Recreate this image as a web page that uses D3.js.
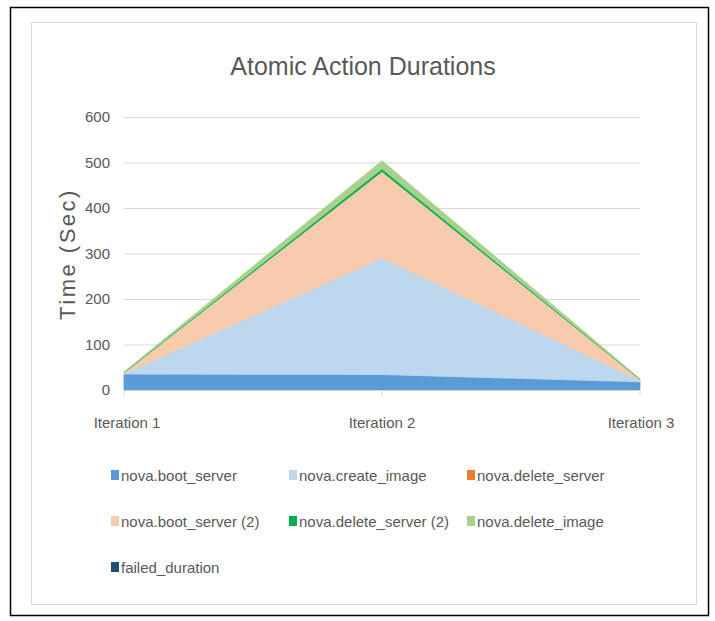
<!DOCTYPE html>
<html>
<head>
<meta charset="utf-8">
<script src="https://cdn.jsdelivr.net/npm/d3@7"></script>
<style>
  body { margin: 0; background: #fff; }
  text { font-family: "Liberation Sans", Arial, sans-serif; fill: #595959; }
</style>
</head>
<body>
<svg width="715" height="621"></svg>
<script>
var categories = ["Iteration 1", "Iteration 2", "Iteration 3"];
var seriesNames = ["nova.boot_server", "nova.create_image", "nova.delete_server",
                   "nova.boot_server (2)", "nova.delete_server (2)", "nova.delete_image",
                   "failed_duration"];
var colors = ["#5b9bd5", "#bdd7ee", "#ed7d31", "#f8cbad", "#00b050", "#a9d18e", "#1f4e79"];

var bootServer = [35, 34, 18];
var createImage = [1, 256, 3];
var deleteServer = [0, 0, 0];
var bootServer2 = [2, 190, 2];
var deleteServer2 = [0.5, 6, 0.5];
var deleteImage = [1, 18, 1];
var failedDuration = [0, 0, 0];
var yTicks = [0, 100, 200, 300, 400, 500, 600];

var allValues = [bootServer, createImage, deleteServer, bootServer2, deleteServer2, deleteImage, failedDuration];

var rows = categories.map((c, i) => {
  var r = { cat: c };
  seriesNames.forEach((s, j) => r[s] = allValues[j][i]);
  return r;
});

var svg = d3.select("svg");

// frames
svg.append("rect").attr("x", 10.5).attr("y", 7.5).attr("width", 698).attr("height", 608)
   .attr("fill", "none").attr("stroke", "#000").attr("stroke-width", 1.5);
svg.append("rect").attr("x", 31.5).attr("y", 22.5).attr("width", 665).attr("height", 582)
   .attr("fill", "#fff").attr("stroke", "#d9d9d9");

var plotLeft = 124, plotRight = 640, plotTop = 117, plotBottom = 390;

var x = d3.scalePoint().domain(categories).range([plotLeft, plotRight]);
var y = d3.scaleLinear().domain([0, 600]).range([plotBottom, plotTop]);

// gridlines
svg.append("g").selectAll("line").data(yTicks.filter(t => t > 0)).enter().append("line")
   .attr("x1", plotLeft).attr("x2", plotRight)
   .attr("y1", d => y(d) + 0.5).attr("y2", d => y(d) + 0.5)
   .attr("stroke", "#d9d9d9").attr("stroke-width", 1);

var stack = d3.stack().keys(seriesNames);
var layers = stack(rows);

var area = d3.area()
  .x(d => x(d.data.cat))
  .y0(d => y(d[0]))
  .y1(d => y(d[1]));

// empty series get no outline so they don't paint over the top edge
svg.append("g").selectAll("path").data(layers).enter().append("path")
   .attr("d", area)
   .attr("fill", (d, i) => colors[i])
   .attr("stroke", (d, i) => d3.sum(allValues[i]) > 0 ? colors[i] : "none")
   .attr("stroke-width", 0.8);

// y axis labels
svg.append("g").selectAll("text").data(yTicks).enter().append("text")
   .attr("x", plotLeft - 14).attr("y", d => y(d) + 5)
   .attr("text-anchor", "end").attr("font-size", 15)
   .text(d => d);

// x axis
svg.append("line").attr("x1", plotLeft).attr("x2", plotRight).attr("y1", plotBottom + 0.5).attr("y2", plotBottom + 0.5)
   .attr("stroke", "#d9d9d9");
svg.append("g").selectAll("line").data(categories).enter().append("line")
   .attr("x1", d => x(d)).attr("x2", d => x(d))
   .attr("y1", plotBottom).attr("y2", plotBottom + 6)
   .attr("stroke", "#d9d9d9");
svg.append("g").selectAll("text").data(categories).enter().append("text")
   .attr("x", d => x(d) + (d === categories[0] ? 3 : d === categories[2] ? 1 : 0))
   .attr("y", 428)
   .attr("text-anchor", "middle").attr("font-size", 15)
   .text(d => d);

// title
svg.append("text").attr("x", 363).attr("y", 75).attr("text-anchor", "middle")
   .attr("font-size", 25).text("Atomic Action Durations");

// y axis title
svg.append("text").attr("transform", "translate(75,254) rotate(-90)")
   .attr("text-anchor", "middle").attr("font-size", 22).attr("letter-spacing", 2.5)
   .attr("font-family", "Open Sans, sans-serif")
   .text("Time (Sec)");

// legend
var legend = svg.append("g").selectAll("g").data(seriesNames).enter().append("g")
   .attr("transform", (d, i) => "translate(" + (111 + (i % 3) * 178) + "," + (475 + Math.floor(i / 3) * 46) + ")");
legend.append("rect").attr("x", 0).attr("y", -5).attr("width", 8).attr("height", 10)
   .attr("fill", (d, i) => colors[i]);
legend.append("text").attr("x", 10).attr("y", 6).attr("font-size", 15).text(d => d);
</script>
</body>
</html>
